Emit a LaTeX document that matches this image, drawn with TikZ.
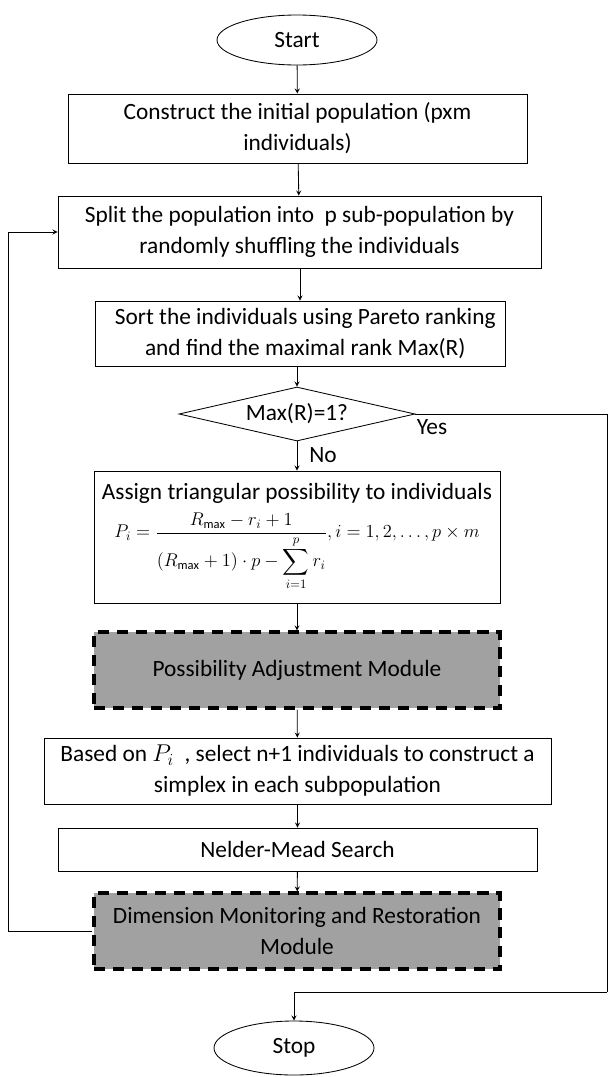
\documentclass[tikz,border=0pt]{standalone}
\usepackage{amsmath}
\usepackage{graphicx}
\usepackage{fontspec}
\setmainfont{Carlito}
\usetikzlibrary{shapes.geometric}

\begin{document}
\begin{tikzpicture}[>=stealth, line width=0.6pt,
    font=\fontsize{16.6}{22}\selectfont,
    term/.style={draw, ellipse, minimum width=4cm, minimum height=1.25cm, inner sep=0pt},
    proc/.style={draw, rectangle, align=center, inner sep=2pt},
    module/.style={draw, rectangle, align=center, fill=black!37, line width=2.2pt, dash pattern=on 8pt off 5.5pt},
    test/.style={draw, diamond, aspect=4.4, minimum width=5.9cm, minimum height=1.35cm, inner sep=0pt}]
        \useasboundingbox (0,0) rectangle (15.225,-26.925);

        \node[term] (start) at (7.425,-1.0) {Start};
        \node[proc, minimum width=11.475cm, minimum height=1.725cm] (init) at (7.4375,-3.2125) {Construct the initial population (pxm\\individuals)};
        \node[proc, minimum width=12.075cm, minimum height=1.8cm] (split) at (7.4875,-5.8) {Split the population into~ p sub-population by\\randomly shuffling the individuals};
        \node[proc, minimum width=10.25cm, minimum height=1.625cm] (sort) at (7.5,-8.3375) {~~Sort the individuals using Pareto ranking\\~~and find the maximal rank Max(R)};
        \node[test] (check) at (7.425,-10.35) {Max(R)=1?};
        \node[proc, minimum width=10.15cm, minimum height=3.3cm] (assign) at (7.425,-13.425) {Assign triangular possibility to individuals\\[5pt]
            {\fontsize{14}{16}\selectfont \scalebox{0.91}{$\displaystyle P_i=\frac{R_{\mathrm{max}}-r_i+1}{\rule{0pt}{3.6ex}(R_{\mathrm{max}}+1)\cdot p-\displaystyle\sum_{i=1}^{p}r_i},i=1,2,\ldots,p\times m$}}};
        \node[module, minimum width=10.15cm, minimum height=1.9cm] (adjust) at (7.425,-16.75) {Possibility Adjustment Module};
        \node[proc, minimum width=12.675cm, minimum height=1.65cm] (select) at (7.4375,-19.275) {Based on $P_i$~ , select n+1 individuals to construct a\\simplex in each subpopulation};
        \node[proc, minimum width=11.975cm, minimum height=1.075cm] (nm) at (7.4375,-21.2375) {Nelder-Mead Search};
        \node[module, minimum width=10.15cm, minimum height=1.9cm] (restore) at (7.425,-23.275) {Dimension Monitoring and Restoration\\Module};
        \node[term, minimum height=1.35cm] (stop) at (7.35,-26.2) {Stop};

        \coordinate (loopL) at (0.2,-23.275);
        \coordinate (edgeR) at (15.175,-10.35);
        \coordinate (edgeB) at (15.175,-24.8);
        \coordinate (stopIn) at (7.35,-24.8);

        \draw[->] (start) -- (init);
        \draw[->] (init) -- (split);
        \draw[->] (split.south -| sort.north) -- (sort);
        \draw[->] (sort.south -| check.north) -- (check);
        \draw[->] (check) -- (assign);
        \draw[->] (assign) -- (adjust);
        \draw[->] (adjust) -- (select);
        \draw[->] (select) -- (nm);
        \draw[->] (nm) -- (restore);
        \draw[->] (restore.west) -- (loopL) |- (split.west);
        \draw (check.east) -- (edgeR) -- (edgeB);
        \draw[->] (edgeB) -- (stopIn) -- (stop);

        \node (yes) at (10.8,-10.675) {Yes};
        \node (no) at (8.075,-11.375) {No};
    \end{tikzpicture}
\end{document}
